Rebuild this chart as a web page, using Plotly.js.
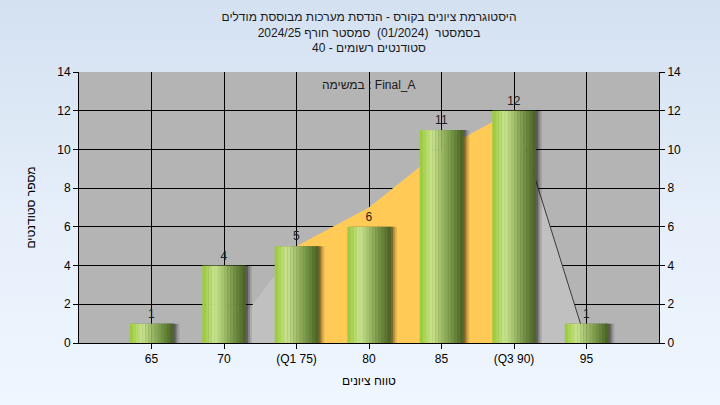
<!DOCTYPE html>
<html>
<head>
<meta charset="utf-8">
<script src="https://cdn.plot.ly/plotly-3.0.1.min.js"></script>
<style>
  html, body { margin:0; padding:0; }
  body { width:720px; height:405px; background: linear-gradient(to bottom, #D4E1F1 0%, #E6EFFA 55%, #EFF6FE 100%); }
  #chart { width:720px; height:405px; }
</style>
</head>
<body>
<div id="chart"></div>
<script>
// ---- data ----
const categories = [65, 70, 75, 80, 85, 90, 95];
const tickLabels = ['65', '70', '(Q1 75)', '80', '85', '(Q3 90)', '95'];
const counts = [1, 4, 5, 6, 11, 12, 1];
const curve = [0, 0, 5, 7, 10, 12, 0];
const q1Index = 2;
const q3Index = 5;
const titleLines = [
  'היסטוגרמת ציונים בקורס - הנדסת מערכות מבוססת מודלים',
  'בסמסטר  (01/2024)  סמסטר חורף 2024/25',
  'סטודנטים רשומים - 40'
];
const assignmentLabel = 'במשימה : Final_A';
const xTitle = 'טווח ציונים';
const yTitle = 'מספר סטודנטים';

// ---- styling ----
const FONT = 'Liberation Sans, Arial, sans-serif';
const barWidth = 3;
const nSlices = 14;
const stops = [
  [0.00, [150, 201, 55]],
  [0.28, [202, 228, 142]],
  [0.55, [150, 180, 96]],
  [0.80, [104, 134, 60]],
  [1.00, [72, 96, 34]]
];
function gradColor(t) {
  for (let i = 0; i < stops.length - 1; i++) {
    const [t0, c0] = stops[i], [t1, c1] = stops[i + 1];
    if (t >= t0 && t <= t1) {
      const f = (t - t0) / (t1 - t0);
      const c = c0.map((v, k) => Math.round(v + (c1[k] - v) * f));
      return 'rgb(' + c.join(',') + ')';
    }
  }
  return 'rgb(72,96,34)';
}

const traces = [];
// background curve (light gray)
traces.push({
  type: 'scatter', mode: 'lines', x: categories, y: curve,
  fill: 'tozeroy', fillcolor: '#C0C0C0',
  line: {width: 0, color: 'rgba(0,0,0,0)'}, hoverinfo: 'skip', showlegend: false
});
// interquartile region (orange)
traces.push({
  type: 'scatter', mode: 'lines',
  x: categories.slice(q1Index, q3Index + 1), y: curve.slice(q1Index, q3Index + 1),
  fill: 'tozeroy', fillcolor: '#FFCA55',
  line: {width: 0, color: 'rgba(0,0,0,0)'}, hoverinfo: 'skip', showlegend: false
});
// descending edge line
traces.push({
  type: 'scatter', mode: 'lines',
  x: categories.slice(q3Index), y: curve.slice(q3Index),
  line: {width: 1, color: '#3a3a3a'}, hoverinfo: 'skip', showlegend: false
});

// shadows
[[0.42, 'rgba(0,0,0,0.12)'], [0.28, 'rgba(0,0,0,0.2)'], [0.16, 'rgba(0,0,0,0.28)']].forEach(([dx, col]) => {
  traces.push({
    type: 'bar', x: categories, y: counts, xaxis: 'x2', yaxis: 'y2',
    width: barWidth, offset: -barWidth / 2 + dx,
    marker: {color: col, line: {width: 0}}, hoverinfo: 'skip', showlegend: false
  });
});
// gradient slices
const sw = barWidth / nSlices;
for (let i = 0; i < nSlices; i++) {
  traces.push({
    type: 'bar', x: categories, y: counts, xaxis: 'x2', yaxis: 'y2',
    width: sw * 1.08, offset: -barWidth / 2 + i * sw,
    marker: {color: gradColor((i + 0.5) / nSlices), line: {width: 0}},
    hoverinfo: 'skip', showlegend: false
  });
}
// value labels
traces.push({
  type: 'bar', x: categories, y: counts, xaxis: 'x2', yaxis: 'y2',
  width: barWidth, offset: -barWidth / 2,
  marker: {color: 'rgba(0,0,0,0)', line: {width: 0}},
  text: counts.map(String), textposition: 'outside', cliponaxis: false,
  textfont: {family: FONT, size: 12, color: '#1e1e1e'},
  hoverinfo: 'skip', showlegend: false
});

const layout = {
  width: 720, height: 405,
  paper_bgcolor: 'rgba(0,0,0,0)',
  plot_bgcolor: '#B4B4B4',
  margin: {l: 79, r: 61, t: 72, b: 62},
  barmode: 'overlay',
  showlegend: false,
  font: {family: FONT, size: 12, color: '#000'},
  title: {
    text: titleLines.join('<br>'),
    font: {family: FONT, size: 12, color: '#1a1a1a'},
    x: 0.5, xanchor: 'center', xref: 'paper',
    y: 0.948, yanchor: 'top', yref: 'container'
  },
  xaxis: {
    range: [60, 100], tickvals: categories, ticktext: tickLabels,
    showgrid: true, gridcolor: '#000', gridwidth: 1,
    ticks: 'outside', ticklen: 5, tickcolor: '#000',
    showline: true, linecolor: '#000', linewidth: 1,
    zeroline: false, tickfont: {family: FONT, size: 12, color: '#000'},
    title: {text: xTitle, font: {family: FONT, size: 12, color: '#000'}, standoff: 11}
  },
  yaxis: {
    range: [0, 14], dtick: 2, tick0: 0,
    showgrid: true, gridcolor: '#000', gridwidth: 1,
    ticks: 'outside', ticklen: 5, tickcolor: '#000',
    showline: true, linecolor: '#000', linewidth: 1,
    zeroline: false, tickfont: {family: FONT, size: 12, color: '#000'},
    title: {text: yTitle, font: {family: FONT, size: 12, color: '#000'}, standoff: 19}
  },
  xaxis2: {range: [60, 100], overlaying: 'x', anchor: 'y2', visible: false, showgrid: false},
  yaxis2: {
    range: [0, 14], dtick: 2, tick0: 0, overlaying: 'y', side: 'right', anchor: 'x2',
    showgrid: false, ticks: 'outside', ticklen: 5, tickcolor: '#000',
    showline: true, linecolor: '#000', linewidth: 1, zeroline: false,
    tickfont: {family: FONT, size: 12, color: '#000'}
  },
  annotations: [{
    text: assignmentLabel, xref: 'paper', yref: 'paper', x: 0.5, y: 0.952,
    xanchor: 'center', yanchor: 'middle', showarrow: false,
    font: {family: FONT, size: 12, color: '#1a1a1a'}
  }]
};

Plotly.newPlot('chart', traces, layout, {staticPlot: true, displayModeBar: false});
</script>
</body>
</html>
